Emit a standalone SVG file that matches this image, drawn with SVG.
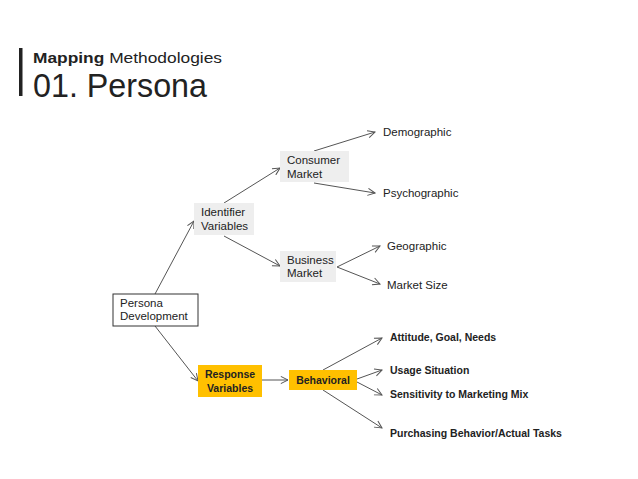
<svg xmlns="http://www.w3.org/2000/svg" width="638" height="479" viewBox="0 0 638 479">
<defs>
<marker id="ah" viewBox="0 0 10 10" refX="9" refY="5" markerWidth="9" markerHeight="9" markerUnits="userSpaceOnUse" orient="auto">
<path d="M1,1 L9,5 L1,9" fill="none" stroke="#555" stroke-width="1.1"/>
</marker>
<style>
text{font-family:"Liberation Sans",Arial,sans-serif;fill:#222}
.t{font-size:11.5px}
.b{font-size:10.5px;font-weight:bold}
.gray{fill:#eeeeee}
.yel{fill:#ffc000}
.c line{stroke:#555;stroke-width:1;marker-end:url(#ah)}
</style>
</defs>
<rect width="638" height="479" fill="#fff"/>
<g id="title">
<rect x="19" y="48" width="3.5" height="48" fill="#222"/>
<text x="33" y="63" style="font-size:14.5px" textLength="189" lengthAdjust="spacingAndGlyphs"><tspan font-weight="bold">Mapping</tspan> Methodologies</text>
<text x="33" y="97" style="font-size:34px" textLength="174" lengthAdjust="spacingAndGlyphs">01. Persona</text>
</g>
<g class="c" id="connectors">
<line x1="155" y1="294" x2="194" y2="221"/>
<line x1="155" y1="326" x2="198" y2="381"/>
<line x1="224" y1="203" x2="280" y2="168"/>
<line x1="224" y1="236" x2="280" y2="266"/>
<line x1="314" y1="151" x2="375" y2="132"/>
<line x1="314" y1="183" x2="375" y2="193"/>
<line x1="337" y1="267" x2="380" y2="246"/>
<line x1="337" y1="267" x2="380" y2="284"/>
<line x1="262" y1="380" x2="288" y2="380"/>
<line x1="323" y1="370" x2="382" y2="338"/>
<line x1="357" y1="379" x2="382" y2="370"/>
<line x1="357" y1="382" x2="382" y2="395"/>
<line x1="323" y1="390" x2="382" y2="428"/>
</g>
<g id="persona">
<rect x="113" y="294" width="85" height="32" fill="#fff" stroke="#333" stroke-width="1"/>
<text class="t" x="120" y="307">Persona</text>
<text class="t" x="120" y="320">Development</text>
</g>
<g id="identifier">
<rect class="gray" x="194" y="203" width="60" height="32"/>
<text class="t" x="201" y="216">Identifier</text>
<text class="t" x="201" y="230">Variables</text>
</g>
<g id="consumer">
<rect class="gray" x="280" y="151" width="69" height="31"/>
<text class="t" x="287" y="164">Consumer</text>
<text class="t" x="287" y="178">Market</text>
</g>
<g id="business">
<rect class="gray" x="280" y="251" width="56" height="31"/>
<text class="t" x="287" y="264">Business</text>
<text class="t" x="287" y="277">Market</text>
</g>
<g id="demographic"><text class="t" x="383" y="136">Demographic</text></g>
<g id="psychographic"><text class="t" x="383" y="197">Psychographic</text></g>
<g id="geographic"><text class="t" x="387" y="250">Geographic</text></g>
<g id="marketsize"><text class="t" x="387" y="289">Market Size</text></g>
<g id="response">
<rect class="yel" x="198" y="365" width="64" height="32"/>
<text class="b" x="230" y="378" text-anchor="middle">Response</text>
<text class="b" x="230" y="392" text-anchor="middle">Variables</text>
</g>
<g id="behavioral">
<rect class="yel" x="289" y="370" width="68" height="20"/>
<text class="b" x="323" y="384" text-anchor="middle">Behavioral</text>
</g>
<g id="attitude"><text class="b" x="390" y="341">Attitude, Goal, Needs</text></g>
<g id="usage"><text class="b" x="390" y="374">Usage Situation</text></g>
<g id="sensitivity"><text class="b" x="390" y="398">Sensitivity to Marketing Mix</text></g>
<g id="purchasing"><text class="b" x="390" y="437">Purchasing Behavior/Actual Tasks</text></g>
</svg>
